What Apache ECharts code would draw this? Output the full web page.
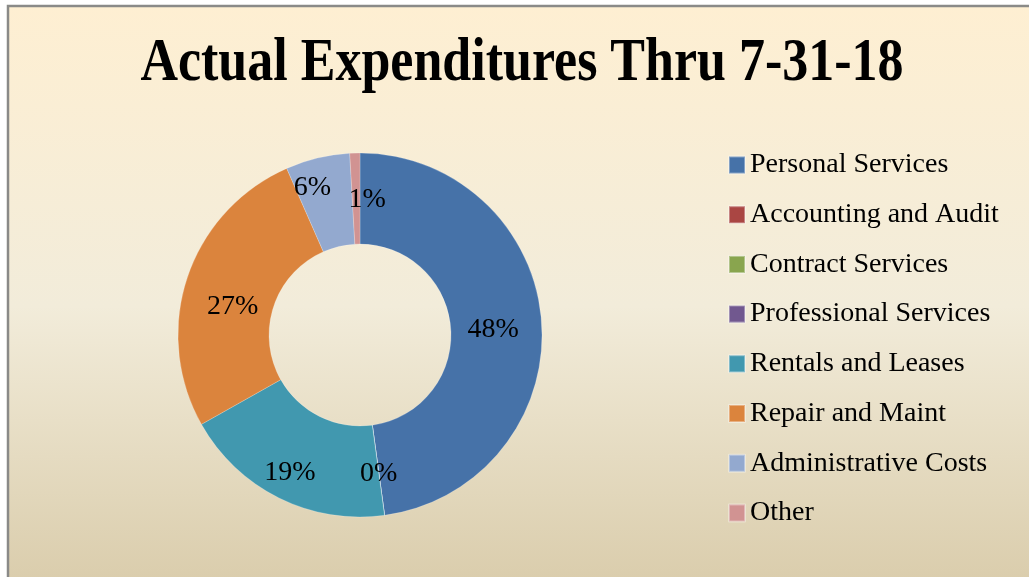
<!DOCTYPE html>
<html>
<head>
<meta charset="utf-8">
<title>Actual Expenditures Thru 7-31-18</title>
<script src="https://cdn.jsdelivr.net/npm/echarts@6/dist/echarts.min.js"></script>
<style>
  html, body { margin: 0; padding: 0; background: #fff; }
  #expenditures { width: 1029px; height: 577px; }
</style>
</head>
<body>
<div id="expenditures"></div>
<script>
const categories = [
  "Personal Services",
  "Accounting and Audit",
  "Contract Services",
  "Professional Services",
  "Rentals and Leases",
  "Repair and Maint",
  "Administrative Costs",
  "Other",
];
const amounts = [47.9, 0, 0, 0, 19.0, 26.6, 5.7, 0.9];
const colors = [
  "#4672a8", "#aa4643", "#89a54e", "#71588f",
  "#4198af", "#db843d", "#93a9cf", "#d19392",
];

// small nudges so the labels sit where excel put them
const labelNudge = {
  "Personal Services": [-6, 4],
  "Rentals and Leases": [-8, 13],
  "Repair and Maint": [5, 16],
  "Administrative Costs": [-15, -12],
  "Other": [11, 4],
};

const chart = echarts.init(document.getElementById("expenditures"));

// the three empty slices sit on top of each other, label only one of them
let zeroLabelled = false;
const pieData = categories.map((name, i) => {
  const item = { name, value: amounts[i] };
  if (amounts[i] === 0) {
    if (zeroLabelled) item.label = { show: false };
    zeroLabelled = true;
  } else if (labelNudge[name]) {
    item.label = { offset: labelNudge[name] };
  }
  return item;
});

chart.setOption({
  animation: false,
  graphic: [
    // sheet background with its gray top / left edge
    {
      type: "rect",
      z: -10,
      silent: true,
      shape: { x: 8, y: 6, width: 1040, height: 600 },
      style: {
        fill: {
          type: "linear", x: 0, y: 0, x2: 0, y2: 1,
          colorStops: [
            { offset: 0, color: "#feefd2" },
            { offset: 0.5, color: "#f2ecda" },
            { offset: 1, color: "#d8caa8" },
          ],
        },
        stroke: "#8a8a88",
        lineWidth: 2.5,
      },
    },
    // title, a bit taller than wide like the original
    {
      type: "text",
      x: 522,
      y: 64,
      scaleY: 1.18,
      silent: true,
      style: {
        text: "Actual Expenditures Thru 7-31-18",
        font: 'bold 52px "Liberation Serif"',
        fill: "#000",
        align: "center",
        verticalAlign: "middle",
      },
    },
  ],
  legend: {
    orient: "vertical",
    left: 723,
    top: 146,
    itemWidth: 16,
    itemHeight: 17,
    itemGap: 21.7,
    icon: "rect",
    data: categories,
    textStyle: {
      fontFamily: "Liberation Serif",
      fontSize: 28,
      color: "#000",
    },
  },
  color: colors,
  series: [
    {
      type: "pie",
      center: [360, 335],
      radius: [91, 182],
      startAngle: 90,
      clockwise: true,
      avoidLabelOverlap: false,
      labelLayout: { hideOverlap: false },
      itemStyle: {
        borderColor: "rgba(255,255,255,0.35)",
        borderWidth: 0.6,
      },
      label: {
        show: true,
        position: "inside",
        fontFamily: "Liberation Serif",
        fontSize: 28,
        color: "#000",
        formatter: (p) => Math.round(p.percent) + "%",
      },
      labelLine: { show: false },
      emphasis: { disabled: true },
      data: pieData,
    },
  ],
});

window.addEventListener("resize", () => {
  chart.resize();
});
</script>
</body>
</html>
